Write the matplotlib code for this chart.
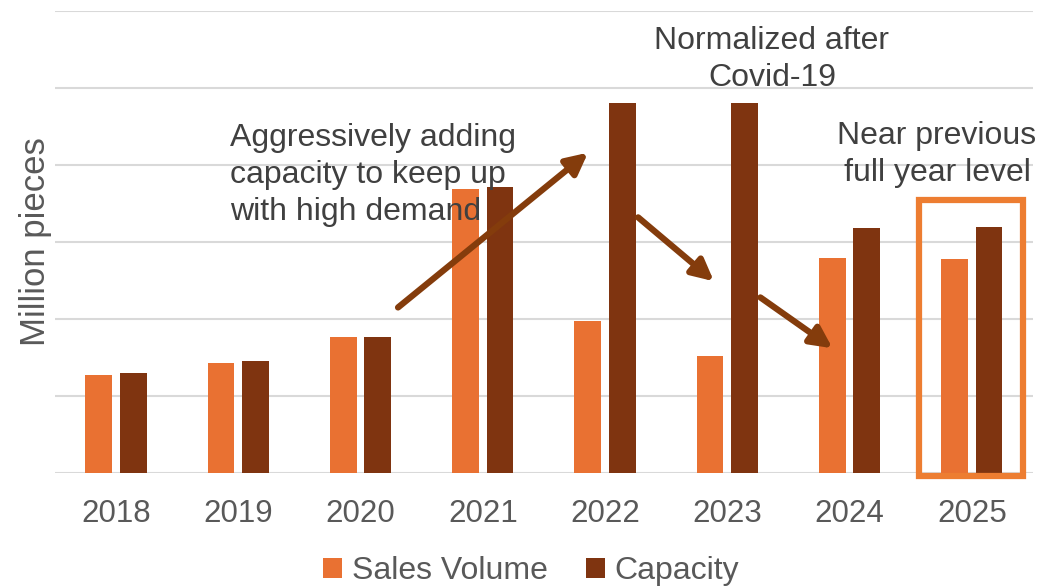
import numpy as np
import matplotlib.pyplot as plt
from matplotlib.patches import Rectangle

plt.rcParams['font.family'] = ['Liberation Sans', 'DejaVu Sans']

years = ['2018', '2019', '2020', '2021', '2022', '2023', '2024', '2025']
sales = [127, 143, 177, 369, 197, 152, 279, 278]
capacity = [130, 145, 177, 371, 481, 481, 318, 319]

c_sales = '#E97132'
c_cap = '#7F3410'
c_arrow = '#843C0C'
c_text = '#404040'
c_tick = '#595959'

fig = plt.figure(figsize=(10.43, 5.88), dpi=100)
ax = fig.add_axes([55 / 1043, 115 / 588, 978 / 1043, 462 / 588])

x = np.arange(len(years))
w = 0.22
ax.bar(x - 0.142, sales, w, color=c_sales, label='Sales Volume', zorder=2)
ax.bar(x + 0.14, capacity, w, color=c_cap, label='Capacity', zorder=2)

ax.set_xlim(-0.5, 7.5)
ax.set_ylim(0, 600)
ax.set_yticks(np.arange(0, 601, 100))
ax.set_yticklabels([])
ax.tick_params(axis='y', length=0)
ax.tick_params(axis='x', length=0, labelsize=22.5, labelcolor=c_tick, pad=19)
ax.set_xticks(x)
ax.set_xticklabels(years)
ax.grid(axis='y', color='#D9D9D9', lw=1.5, zorder=0)
ax.set_axisbelow(True)
for s in ax.spines.values():
    s.set_visible(False)

ax.set_ylabel('Million pieces', fontsize=25, color=c_tick, labelpad=-1.5)

# arrows
arrows = [((2.306, 215), (3.86, 416)),
          ((4.27, 332), (4.89, 249)),
          ((5.27, 228), (5.86, 162))]
for (x0, y0), (x1, y1) in arrows:
    ax.annotate('', xy=(x1, y1), xytext=(x0, y0),
                arrowprops=dict(arrowstyle='-|>', color=c_arrow, lw=4.5,
                                mutation_scale=32, shrinkA=0, shrinkB=0),
                zorder=4)

# highlight box around 2025
ax.add_patch(Rectangle((6.567, -4), 0.851, 358.5, fill=False,
                       edgecolor='#ED7D31', lw=4.5, clip_on=False, zorder=3))

ax.text(0.931, 387, 'Aggressively adding\ncapacity to keep up\nwith high demand',
        fontsize=23, color=c_text, ha='left', va='center', linespacing=1.3, zorder=5)
ax.text(5.365, 537, 'Normalized after\nCovid-19', fontsize=23, color=c_text,
        ha='center', va='center', linespacing=1.3, zorder=5)
ax.text(6.715, 414, 'Near previous\nfull year level', fontsize=23, color=c_text,
        ha='center', va='center', linespacing=1.3, zorder=5)

ax.legend(loc='center', bbox_to_anchor=(476 / 978, -98 / 462), ncol=2, frameon=False,
          fontsize=23, labelcolor=c_tick, handlelength=0.6, handleheight=0.6,
          handletextpad=0.3, columnspacing=1.2, borderpad=0.2)

fig.savefig('out.png', dpi=100)
